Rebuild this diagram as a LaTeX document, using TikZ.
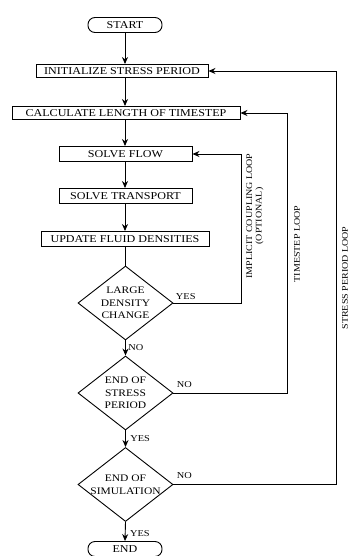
\documentclass[tikz,border=0pt]{standalone}
\usepackage{fontspec}
\setmainfont[FakeStretch=1.15]{Liberation Serif}
\usetikzlibrary{shapes.geometric,arrows.meta}
\begin{document}
\begin{tikzpicture}[x=1pt,y=-1pt,
  every node/.style={font=\fontsize{10.5}{12}\selectfont},
  procbox/.style={draw,line width=0.9pt,minimum height=13pt,inner sep=0pt,anchor=center},
  termbox/.style={draw,line width=0.9pt,rounded corners=7pt,minimum width=74pt,minimum height=15pt,inner sep=0pt},
  dia/.style={draw,diamond,line width=0.9pt,minimum width=95pt,minimum height=74pt,inner sep=0pt},
  diatext/.style={align=center,font=\fontsize{10}{12.5}\selectfont},
  lab/.style={font=\fontsize{9}{10}\selectfont},
  looplab/.style={rotate=90,align=center,font=\fontsize{8.7}{9.5}\selectfont},
  arr/.style={line width=0.9pt,-{Stealth[length=7pt,width=6pt]}},
  ln/.style={line width=0.9pt}]
\useasboundingbox (0,0) rectangle (351,556);
\node[termbox] (start) at (125,25) {START};
\node[procbox,minimum width=172pt] (init) at (122,71) {INITIALIZE STRESS PERIOD};
\node[procbox,minimum width=228pt] (calc) at (126,113) {CALCULATE LENGTH OF TIMESTEP};
\node[procbox,minimum width=133pt,minimum height=15pt] (flow) at (125.5,154) {SOLVE FLOW};
\node[procbox,minimum width=133pt,minimum height=15pt] (trans) at (125.5,196) {SOLVE TRANSPORT};
\node[procbox,minimum width=168pt,minimum height=15pt] (upd) at (125,239) {UPDATE FLUID DENSITIES};
\node[dia] (d1) at (125.5,303) {};
\node[diatext] at (d1) {LARGE\\DENSITY\\CHANGE};
\node[dia] (d2) at (125.5,393) {};
\node[diatext] at (d2) {END OF\\STRESS\\PERIOD};
\node[dia] (d3) at (125.5,484.5) {};
\node[diatext] at (d3) {END OF\\SIMULATION};
\node[termbox] (end) at (125,549) {END};
% main flow
\draw[arr] (start) -- (start |- init.north);
\draw[arr] (start |- init.south) -- (start |- calc.north);
\draw[arr] (start |- calc.south) -- (start |- flow.north);
\draw[arr] (start |- flow.south) -- (start |- trans.north);
\draw[arr] (start |- trans.south) -- (start |- upd.north);
\draw[ln] (upd.south -| d1.north) -- (d1.north);
\draw[arr] (d1.south) -- (d2.north) node[lab,midway,right,xshift=-1pt] {NO};
\draw[arr] (d2.south) -- (d3.north) node[lab,midway,right,xshift=1pt] {YES};
\draw[arr] (d3.south) -- (end.north) node[lab,midway,right,xshift=1pt,yshift=-2pt] {YES};
% loops
\coordinate (c1) at (241,303);
\coordinate (c2) at (287,393);
\coordinate (c3) at (336,484.5);
\draw[arr] (d1.east) -- (c1) |- (flow.east);
\draw[arr] (d2.east) -- (c2) |- (calc.east);
\draw[arr] (d3.east) -- (c3) |- (init.east);
\node[lab,anchor=south west] at ([xshift=-1pt,yshift=0pt]d1.east) {YES};
\node[lab,anchor=south west] at ([xshift=0pt,yshift=2pt]d2.east) {NO};
\node[lab,anchor=south west] at ([xshift=0pt,yshift=2pt]d3.east) {NO};
\node[looplab] (l1) at (255,216) {IMPLICIT COUPLING LOOP\\(OPTIONAL)};
\node[looplab] (l2) at (297,244) {TIMESTEP LOOP};
\node[looplab] (l3) at (345,278) {STRESS PERIOD LOOP};
\end{tikzpicture}
\end{document}
